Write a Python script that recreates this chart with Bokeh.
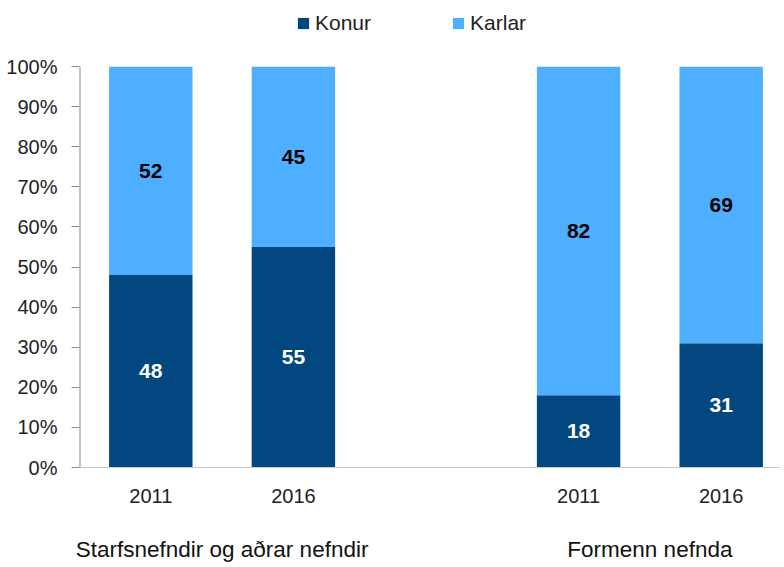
from bokeh.plotting import figure
from bokeh.models import (ColumnDataSource, FixedTicker, LinearAxis, Legend,
                          LegendItem, Range1d)
from bokeh.core.properties import value
from bokeh.embed import file_html
from bokeh.resources import INLINE

# ---- data ----
groups = ["Starfsnefndir og aðrar nefndir", "Formenn nefnda"]
years = ["2011", "2016", "2011", "2016"]
konur = [48, 55, 18, 31]
karlar = [52, 45, 82, 69]
slots = [0.5, 1.5, 3.5, 4.5]
group_centers = [1.0, 4.0]
y_ticks = list(range(0, 101, 10))

DARK = "#02477F"
LIGHT = "#4EAEFF"
FONT = "Liberation Sans"

src = ColumnDataSource(dict(
    x=slots, konur=konur, karlar=karlar,
    konur_mid=[k / 2 for k in konur],
    karlar_mid=[k + m / 2 for k, m in zip(konur, karlar)],
    konur_lbl=[str(k) for k in konur],
    karlar_lbl=[str(m) for m in karlar],
))

p = figure(width=780, height=565, output_backend="svg", toolbar_location=None,
           x_range=Range1d(0, 4.916), y_range=Range1d(0, 115),
           min_border_left=79, min_border_right=0, min_border_top=6,
           min_border_bottom=98, x_axis_type=None, y_axis_type=None)
p.outline_line_color = None
p.xgrid.visible = False
p.ygrid.visible = False

r = p.vbar_stack(["konur", "karlar"], x="x", width=0.585, source=src,
                 color=[DARK, LIGHT], line_color=None)

# vertical axis line only from 0% to 100%
p.segment(x0=[0], y0=[y_ticks[0]], x1=[0], y1=[y_ticks[-1]],
          line_color="#8c8c8c", line_width=2)

p.text(x="x", y="konur_mid", text="konur_lbl", source=src,
       text_font=value(FONT), text_font_style="bold", text_font_size="21px",
       text_color="white", text_align="center", text_baseline="middle")
p.text(x="x", y="karlar_mid", text="karlar_lbl", source=src,
       text_font=value(FONT), text_font_style="bold", text_font_size="21px",
       text_color="black", text_align="center", text_baseline="middle")

# y axis
yax = LinearAxis(ticker=FixedTicker(ticks=y_ticks))
yax.major_label_overrides = {t: f"{t}%" for t in y_ticks}
yax.major_tick_out = 8
yax.major_tick_in = 0
yax.minor_tick_line_color = None
yax.axis_line_color = None
yax.major_tick_line_color = "#8c8c8c"
yax.major_label_text_font = FONT
yax.major_label_text_font_size = "20px"
yax.major_label_text_color = "#222222"
yax.major_label_standoff = 14
p.add_layout(yax, "left")

# x axis with years
xax = LinearAxis(ticker=FixedTicker(ticks=slots))
xax.major_label_overrides = {s: y for s, y in zip(slots, years)}
xax.major_tick_line_color = None
xax.minor_tick_line_color = None
xax.axis_line_color = "#c8c8c8"
xax.major_label_text_font = FONT
xax.major_label_text_font_size = "20px"
xax.major_label_text_color = "#222222"
xax.major_label_standoff = 15
p.add_layout(xax, "below")

# group axis
gax = LinearAxis(ticker=FixedTicker(ticks=group_centers))
gax.major_label_overrides = {c: g for c, g in zip(group_centers, groups)}
gax.major_tick_line_color = None
gax.minor_tick_line_color = None
gax.axis_line_color = None
gax.major_label_text_font = FONT
gax.major_label_text_font_size = "22.5px"
gax.major_label_text_color = "#111111"
gax.major_label_standoff = 25
p.add_layout(gax, "below")

legend = Legend(items=[LegendItem(label="Konur", renderers=[r[0]]),
                       LegendItem(label="Karlar", renderers=[r[1]])],
                orientation="horizontal", location=(217, 432),
                label_text_font=FONT, label_text_font_size="21px",
                label_text_color="#222222", glyph_width=14, glyph_height=14,
                spacing=80, border_line_color=None, background_fill_alpha=0,
                padding=0, margin=0, label_standoff=5)
p.add_layout(legend, "center")

open("out.html", "w").write(file_html(p, INLINE))
